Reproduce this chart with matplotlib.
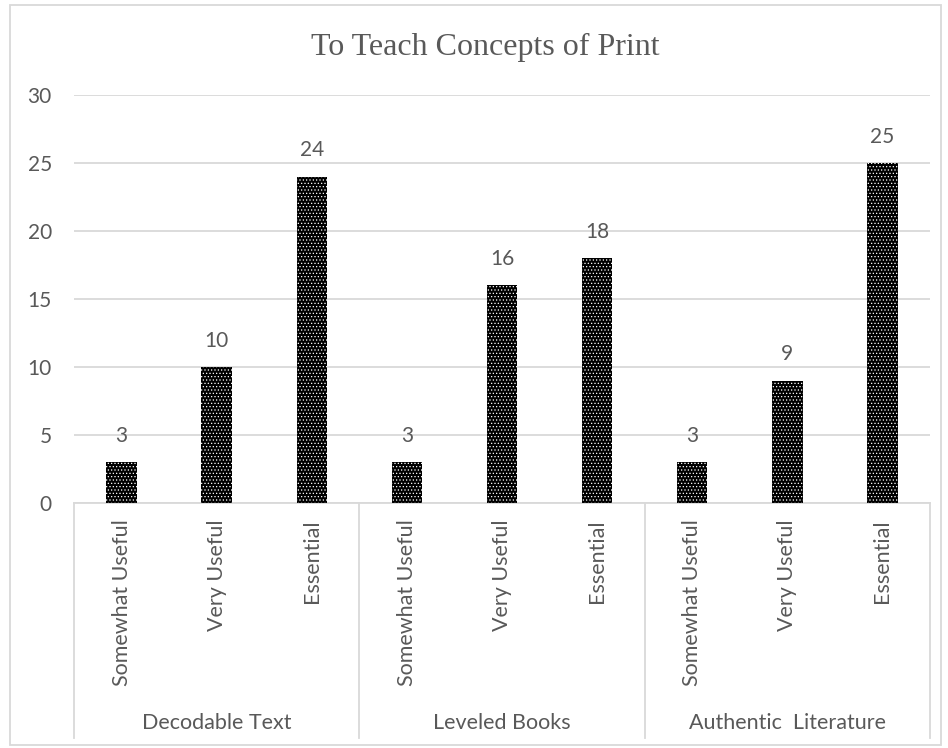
import matplotlib.pyplot as plt
from matplotlib.patches import Rectangle
from matplotlib.lines import Line2D

# Survey counts per text type and usefulness rating
groups = ['Decodable Text', 'Leveled Books', 'Authentic  Literature']
ratings = ['Somewhat Useful', 'Very Useful', 'Essential']
decodable = [3, 10, 24]
leveled = [3, 16, 18]
authentic = [3, 9, 25]
yticks = [0, 5, 10, 15, 20, 25, 30]

TXT = '#595959'
GRID = '#d9d9d9'
W, H = 948, 748

plt.rcParams['font.family'] = ['Lato', 'DejaVu Sans']
plt.rcParams['hatch.linewidth'] = 0.5

fig = plt.figure(figsize=(W / 100, H / 100), dpi=100)
ax = fig.add_axes([74 / W, 1 - 503 / H, (930 - 74) / W, (503 - 95) / H])

values = decodable + leveled + authentic
xs = list(range(len(values)))
bars = ax.bar(xs, values, width=0.32, color='black', edgecolor='white',
              hatch='.....', linewidth=0, zorder=3)
for x, v in zip(xs, values):
    ax.annotate(str(v), (x, v), xytext=(0, 14.5), textcoords='offset points',
                ha='center', va='baseline', fontsize=15, color=TXT)

ax.set_xlim(-0.5, len(values) - 0.5)
ax.set_ylim(0, 30)
ax.set_yticks(yticks)
ax.yaxis.grid(True, color=GRID, linewidth=1.3)
ax.set_axisbelow(True)
ax.tick_params(axis='y', length=0, pad=16, labelsize=15, labelcolor=TXT)
ax.set_xticks(xs)
ax.set_xticklabels(ratings * len(groups), rotation=90, va='top',
                   fontsize=15.5, color=TXT)
ax.tick_params(axis='x', length=0, pad=12)
for s in ['top', 'right', 'left']:
    ax.spines[s].set_visible(False)
ax.spines['bottom'].set_color(GRID)
ax.spines['bottom'].set_linewidth(1.3)

# group separators and group names under the rotated labels
n = len(ratings)
for i in range(len(groups) + 1):
    xb = i * n - 0.5
    xf = fig.transFigure.inverted().transform(ax.transData.transform((xb, 0)))[0]
    fig.add_artist(Line2D([xf, xf], [1 - 503 / H, 1 - 738 / H],
                          color=GRID, linewidth=1.3))
for i, g in enumerate(groups):
    xc = i * n + (n - 1) / 2
    xf = fig.transFigure.inverted().transform(ax.transData.transform((xc, 0)))[0]
    fig.text(xf, 1 - 723 / H, g, ha='center', va='center',
             fontsize=15.5, color=TXT)

fig.text(485 / W, 1 - 47 / H, 'To Teach Concepts of Print', ha='center',
         va='center', fontsize=23, color=TXT, family='Liberation Serif')

fig.add_artist(Rectangle((10 / W, 3 / H), 931 / W, 740 / H, fill=False,
                         edgecolor=GRID, linewidth=1.3,
                         transform=fig.transFigure))

fig.savefig('out.png', dpi=100)
